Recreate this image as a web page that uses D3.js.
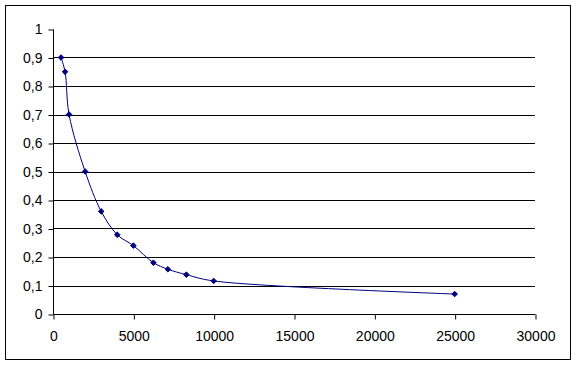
<!DOCTYPE html>
<html>
<head>
<meta charset="utf-8">
<script src="https://cdn.jsdelivr.net/npm/d3@7"></script>
<style>
  body { margin: 0; background: #fff; }
  svg text { font-family: "Liberation Sans", Arial, sans-serif; font-size: 14px; fill: #000; }
</style>
</head>
<body>
<div id="chart"></div>
<script>
// data
var xValues = [500, 750, 1000, 2000, 3000, 4000, 5000, 6250, 7150, 8300, 10000, 25000];
var yValues = [0.9, 0.85, 0.7, 0.5, 0.36, 0.278, 0.24, 0.18, 0.157, 0.138, 0.116, 0.07];
var xTicks = [0, 5000, 10000, 15000, 20000, 25000, 30000];
var yTicks = [0, 0.1, 0.2, 0.3, 0.4, 0.5, 0.6, 0.7, 0.8, 0.9, 1];

var width = 576, height = 366;
var svg = d3.select("#chart").append("svg")
  .attr("width", width)
  .attr("height", height);

// outer frame
svg.append("rect")
  .attr("x", 5.5).attr("y", 5.5)
  .attr("width", 565).attr("height", 354)
  .attr("fill", "#fff")
  .attr("stroke", "#000")
  .attr("stroke-width", 1);

var x = d3.scaleLinear().domain([0, 30000]).range([53, 535]);
var y = d3.scaleLinear().domain([0, 1]).range([314, 29]);

var fmt = function (d) { return d3.format("")(d).replace(".", ","); };

// gridlines
svg.append("g").selectAll("line")
  .data(yTicks.filter(function (d) { return d > 0 && d < 1; }))
  .enter().append("line")
  .attr("x1", x(0)).attr("x2", x(30000))
  .attr("y1", function (d) { return Math.round(y(d)) + 0.5; })
  .attr("y2", function (d) { return Math.round(y(d)) + 0.5; })
  .attr("stroke", "#000");

var yAxis = svg.append("g")
  .attr("transform", "translate(" + (x(0) + 0.5) + ",0.5)")
  .call(d3.axisLeft(y).tickValues(yTicks).tickFormat(fmt).tickSize(5).tickPadding(6));

var xAxis = svg.append("g")
  .attr("transform", "translate(0.5," + (y(0) + 0.5) + ")")
  .call(d3.axisBottom(x).tickValues(xTicks).tickFormat(d3.format("")).tickSize(5).tickPadding(12));

[yAxis, xAxis].forEach(function (g) {
  g.attr("font-family", null).attr("font-size", null);
  g.selectAll("path, line").attr("stroke", "#000");
  g.select(".domain").attr("d", g === yAxis ?
    "M0," + y(1) + "V" + y(0) : "M" + x(0) + ",0H" + x(30000));
});

var pts = xValues.map(function (d, i) { return [d, yValues[i]]; });

var line = d3.line()
  .x(function (d) { return x(d[0]); })
  .y(function (d) { return y(d[1]); })
  .curve(d3.curveCatmullRom.alpha(0.5));

svg.append("path")
  .datum(pts)
  .attr("d", line)
  .attr("fill", "none")
  .attr("stroke", "#000080")
  .attr("stroke-width", 1);

svg.append("g").selectAll("path")
  .data(pts)
  .enter().append("path")
  .attr("d", d3.symbol().type(d3.symbolDiamond2).size(20))
  .attr("transform", function (d) { return "translate(" + x(d[0]) + "," + y(d[1]) + ")"; })
  .attr("fill", "#000080")
  .attr("stroke", "#000080");
</script>
</body>
</html>
